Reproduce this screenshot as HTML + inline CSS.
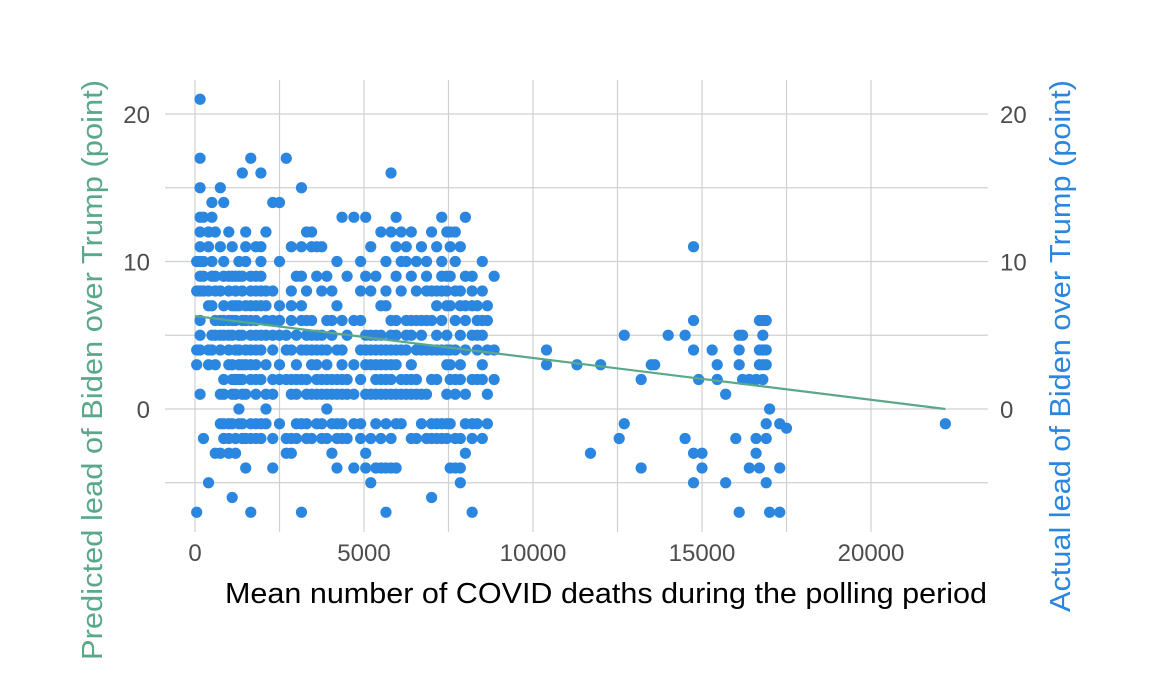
<!DOCTYPE html>
<html><head><meta charset="utf-8"><style>
html,body{margin:0;padding:0;background:#fff;}
svg{display:block;font-family:"Liberation Sans Narrow","Liberation Sans",sans-serif;}
</style></head><body>
<svg id="chart" width="1152" height="691" viewBox="0 0 1152 691">
<g id="grid"></g>
<g id="marks"></g>
<g id="ticks"></g>
<text x="606" y="603" text-anchor="middle" font-size="29" fill="#000" textLength="762" lengthAdjust="spacingAndGlyphs">Mean number of COVID deaths during the polling period</text>
<text transform="translate(102,370) rotate(-90)" text-anchor="middle" font-size="29" fill="#5aa88a" textLength="580" lengthAdjust="spacingAndGlyphs">Predicted lead of Biden over Trump (point)</text>
<text transform="translate(1070,346) rotate(-90)" text-anchor="middle" font-size="29" fill="#2b86e0" textLength="532" lengthAdjust="spacingAndGlyphs">Actual lead of Biden over Trump (point)</text>
</svg>
<script>
const xTicks=[0,5000,10000,15000,20000];
const xMinor=[2500,7500,12500,17500];
const yTicks=[0,10,20];
const yMinor=[-5,5,15];
const fitX=[0,22200];
const fitY=[6.3,0];
const deaths=[50,150,250,400,500,600,750,850,1000,1100,1200,1300,1400,1500,1650,1800,1950,2100,2300,2500,2700,2850,3000,3150,3300,3450,3600,3750,3900,4050,4200,4350,4500,4700,4900,5050,5200,5350,5500,5650,5800,5950,6100,6250,6400,6550,6700,6850,7000,7150,7300,7450,7550,7700,7850,8000,8200,8350,8500,8650,8850,10400,11300,11700,12000,12550,12700,13200,13500,13600,14000,14500,14750,14900,15000,15300,15450,15700,16000,16100,16200,16400,16600,16700,16800,16900,17000,17300,17500,22200];
const leads=[[10,8,4,3,-7],[21,17,15,13,12,11,10,9,8,6,5,4,1],[13,10,9,8,-2],[12,11,8,7,4,3,-5],[14,13,10,9,7,5,4],[12,9,8,6,5,3,-3],[15,11,8,6,5,4,1,-1,-3],[14,10,9,7,6,5,2,1,-1,-2],[12,9,8,6,5,4,3,-1,-2,-3],[11,9,7,6,5,3,2,1,-1,-6],[9,8,7,6,4,2,1,-2,-3],[10,9,7,5,4,3,2,0,-1],[16,9,8,6,5,3,2,1,-1,-2],[12,11,10,7,6,4,3,1,-2,-4],[17,9,8,7,6,5,4,3,2,-1,-2,-7],[11,9,8,7,6,5,4,3,2,1,-1,-2],[16,11,10,9,8,7,5,4,2,-1,-2],[12,8,7,6,5,3,1,0,-1],[14,8,6,5,4,2,1,-2,-4],[14,10,7,6,5,3,2,-1],[17,5,4,2,-2,-3],[11,8,7,6,4,2,1,-2,-3],[9,5,3,2,1,-1,-2],[15,11,9,7,6,4,2,-1,-7],[12,8,6,5,4,2,1,-1,-2],[12,11,6,5,4,3,1,-2],[11,9,5,4,3,2,1,-1],[11,8,5,4,2,1,-1,-2],[9,6,4,3,2,1,0,-2],[8,6,5,2,1,-1,-3],[10,7,4,2,1,-1,-2,-4],[13,6,4,3,2,1,-1,-2],[9,5,2,1,-2],[13,6,3,1,-1,-4],[10,8,6,4,2,-1,-2],[13,9,5,4,3,1,-3,-4],[11,8,5,4,3,1,-2,-5],[9,5,4,3,2,1,-1,-4],[12,7,5,4,3,2,1,-2,-4],[10,8,7,4,3,2,1,-1,-4,-7],[16,12,6,5,4,3,2,1,-2,-4],[13,11,9,6,5,4,3,1,-1,-4],[12,10,8,4,2,1,-1],[11,10,6,5,4,2,1],[12,9,6,5,3,2,1,-2],[10,8,6,4,2,1,-2],[11,6,5,4,1,-1],[10,9,8,6,4,1,-2],[12,8,6,4,2,-1,-2,-6],[11,8,7,5,4,2,-1,-2],[13,10,9,8,6,4,-1,-2],[12,9,8,7,5,4,3,1,-1,-2],[12,11,9,7,4,3,2,-1,-4],[12,10,8,6,4,2,1,-2,-4],[11,8,7,5,3,2,-2,-4,-5],[13,9,7,6,4,1,-1,-3],[9,8,7,5,2,-1,-2,-7],[7,6,5,4,2,-1],[10,8,6,5,3,2,-2],[7,6,4,1,-1],[9,4,2],[4,3],[3],[-3],[3],[-2],[5,-1],[2,-4],[3],[3],[5],[5,-2],[11,6,4,-3,-5],[2],[-3,-4],[4],[3,2],[1,-5],[-2],[5,4,3,-7],[5,2],[2,-4],[2,-2,-3],[6,4,3,-4],[6,5,4,3,2],[6,4,3,-1,-2,-5],[0,-7],[-1,-4,-7],[-1.3],[-1]];

const NS="http://www.w3.org/2000/svg";
function sx(v){return 195+v*(169/5000);}
function sy(v){return 409-v*14.75;}
const grid=document.getElementById('grid'),marks=document.getElementById('marks'),ticks=document.getElementById('ticks');
function mk(tag,attrs,parent){const e=document.createElementNS(NS,tag);for(const k in attrs)e.setAttribute(k,attrs[k]);parent.appendChild(e);return e;}
xTicks.concat(xMinor).forEach(v=>{
  const l=mk('line',{x1:sx(v),x2:sx(v),y1:80,y2:532,stroke:'#d0d0d0','stroke-width':1.2},grid);
  
  
});
yTicks.concat(yMinor).forEach(v=>{
  const l=mk('line',{x1:165,x2:988,y1:sy(v),y2:sy(v),stroke:'#d0d0d0','stroke-width':1.2},grid);
  
  
});
xTicks.forEach(v=>{
  const t=mk('text',{x:sx(v),y:561,'text-anchor':'middle','font-size':24,fill:'#4d4d4d'},ticks);
  t.textContent=v;
  
  
});
yTicks.forEach(v=>{
  const t=mk('text',{x:150,y:sy(v)+9,'text-anchor':'end','font-size':24,fill:'#4d4d4d'},ticks);
  t.textContent=v;
  
  
  const r=mk('text',{x:1000,y:sy(v)+9,'text-anchor':'start','font-size':24,fill:'#4d4d4d'},ticks);
  r.textContent=v;
  
  
});
deaths.forEach((d,i)=>{
  leads[i].forEach(y=>{
    const c=mk('circle',{cx:sx(d),cy:sy(y),r:5.6,fill:'#2b86e0'},marks);
    
    
  });
});
const fit=mk('line',{x1:sx(fitX[0]),y1:sy(fitY[0]),x2:sx(fitX[1]),y2:sy(fitY[1]),stroke:'#5aa88a','stroke-width':2.2},marks);


</script>
</body></html>
